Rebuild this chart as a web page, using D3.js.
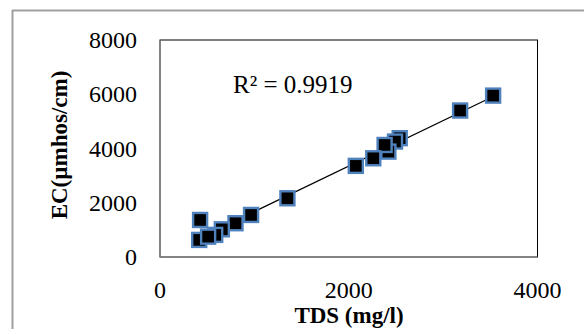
<!DOCTYPE html>
<html><head><meta charset="utf-8">
<script src="https://cdn.jsdelivr.net/npm/d3@7"></script>
<style>body{margin:0;background:#fff;} svg{display:block;}</style>
</head><body>
<svg id="c" width="584" height="329"></svg>
<script>
const tds = [3530, 3180, 2540, 2490, 2420, 2380, 2260, 2075, 1350, 965, 800, 655, 585, 425, 415, 510];
const ec  = [5950, 5400, 4380, 4255, 3885, 4130, 3640, 3360, 2165, 1550, 1245, 1020, 815, 1365, 630, 750];
const xTicks = [0, 2000, 4000];
const yTicks = [0, 2000, 4000, 6000, 8000];
const r2Label = "R² = 0.9919";
const xTitle = "TDS (mg/l)";
const yTitle = "EC(µmhos/cm)";

const svg = d3.select("#c");
const font = "'Liberation Serif','Times New Roman',serif";
// outer frame
svg.append("line").attr("x1",12).attr("x2",584).attr("y1",10.5).attr("y2",10.5).attr("stroke","#a0a0a0").attr("stroke-width",2);
svg.append("line").attr("x1",12.5).attr("x2",12.5).attr("y1",10).attr("y2",329).attr("stroke","#a0a0a0").attr("stroke-width",2);

const x = d3.scaleLinear().domain([0,4000]).range([160,537.5]);
const y = d3.scaleLinear().domain([0,8000]).range([257,40]);

svg.append("rect").attr("x",x(0)).attr("y",y(8000)).attr("width",x(4000)-x(0)).attr("height",y(0)-y(8000))
  .attr("fill","none").attr("stroke","#000").attr("stroke-width",1);
svg.append("line").attr("x1",x(0)).attr("x2",x(4000)).attr("y1",y(0)).attr("y2",y(0)).attr("stroke","#888");
svg.append("line").attr("x1",x(0)).attr("x2",x(0)).attr("y1",y(0)).attr("y2",y(8000)).attr("stroke","#888");

svg.selectAll(".yt").data(yTicks).enter().append("text")
  .attr("x",137).attr("y",d=>y(d)+8).attr("text-anchor","end")
  .attr("font-family",font).attr("font-size",24).text(d=>d);
svg.selectAll(".xt").data(xTicks).enter().append("text")
  .attr("x",d=>x(d)).attr("y",298).attr("text-anchor","middle")
  .attr("font-family",font).attr("font-size",24).text(d=>d);

svg.append("text").attr("x",349).attr("y",323).attr("text-anchor","middle")
  .attr("font-family",font).attr("font-size",23).attr("font-weight","bold").text(xTitle);
svg.append("text").attr("transform","translate(67,145) rotate(-90)").attr("text-anchor","middle")
  .attr("font-family",font).attr("font-size",23).attr("font-weight","bold").text(yTitle);

const n = tds.length, mx = d3.mean(tds), my = d3.mean(ec);
let sxy=0, sxx=0;
for(let i=0;i<n;i++){ sxy+=(tds[i]-mx)*(ec[i]-my); sxx+=(tds[i]-mx)**2; }
const slope = sxy/sxx, icpt = my - slope*mx;
const x0 = d3.min(tds), x1 = d3.max(tds);
svg.append("line").attr("x1",x(x0)).attr("y1",y(icpt+slope*x0)).attr("x2",x(x1)).attr("y2",y(icpt+slope*x1))
  .attr("stroke","#000").attr("stroke-width",1.2);

const s = 14;
svg.selectAll(".pt").data(tds.map((d,i)=>[d,ec[i]])).enter().append("rect")
  .attr("x",d=>x(d[0])-s/2).attr("y",d=>y(d[1])-s/2).attr("width",s).attr("height",s)
  .attr("fill","#000").attr("stroke","#4f81bd").attr("stroke-width",2.4);

svg.append("text").attr("x",233).attr("y",93).attr("font-family",font).attr("font-size",25).text(r2Label);
</script>
</body></html>
